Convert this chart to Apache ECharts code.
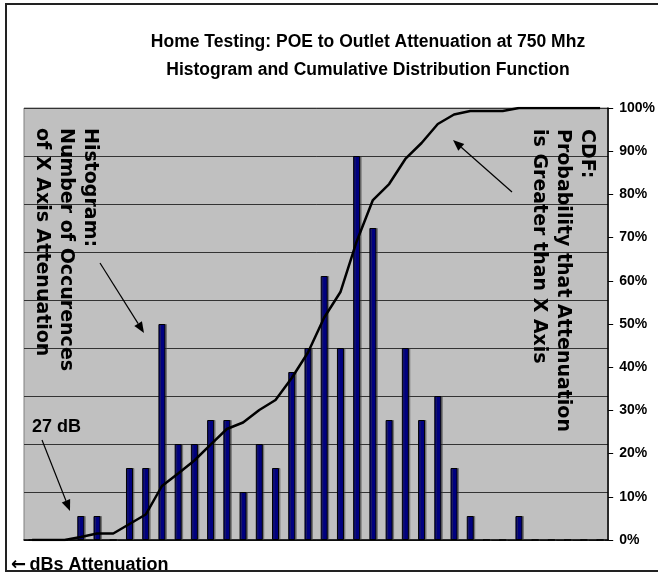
<!DOCTYPE html>
<html>
<head>
<meta charset="utf-8">
<script src="https://cdn.jsdelivr.net/npm/echarts@6/dist/echarts.min.js"></script>
<style>
html,body{margin:0;padding:0;background:#fff;}
#c{width:658px;height:580px;}
</style>
</head>
<body>
<div id="c"></div>
<script>
// Categories: attenuation in dB (index 3 = 27 dB)
const categories = [24,25,26,27,28,29,30,31,32,33,34,35,36,37,38,39,40,41,42,43,44,45,46,47,48,49,50,51,52,53,54,55,56,57,58,59];
// Histogram: number of occurrences per dB bin
const counts = [0,0,0,1,1,0,3,3,9,4,4,5,5,2,4,3,7,8,11,8,16,13,5,8,5,6,3,1,0,0,1,0,0,0,0,0];
// CDF in percent
const cdf = [0,0,0,0.7,1.5,1.5,3.7,5.9,12.5,15.4,18.4,22.1,25.7,27.2,30.1,32.4,37.5,43.4,51.5,57.4,69.1,78.7,82.4,88.2,91.9,96.3,98.5,99.3,99.3,99.3,100,100,100,100,100,100];
// Right axis percent ticks
const pctMin = 0, pctMax = 100, pctStep = 10;
// Left (hidden) count axis
const countMin = 0, countMax = 18, countStep = 2;

const titleLines = ['Home Testing: POE to Outlet Attenuation at 750 Mhz', 'Histogram and Cumulative Distribution Function'];
const histNote = 'Histogram:\nNumber of Occurences\nof X Axis Attenuation';
const cdfNote = 'CDF:\nProbability that Attenuation\nis Greater than X Axis';

const chart = echarts.init(document.getElementById('c'), null, {renderer: 'canvas'});

function arrow(x1, y1, x2, y2) {
  const ang = Math.atan2(y2 - y1, x2 - x1);
  const L = 11, W = 4.5;
  const bx = x2 - L * Math.cos(ang), by = y2 - L * Math.sin(ang);
  const px = -Math.sin(ang) * W, py = Math.cos(ang) * W;
  return [
    {type: 'line', z: 100, shape: {x1: x1, y1: y1, x2: bx, y2: by}, style: {stroke: '#000', lineWidth: 1.2}},
    {type: 'polygon', z: 100, shape: {points: [[x2, y2], [bx + px, by + py], [bx - px, by - py]]}, style: {fill: '#000'}}
  ];
}

const annFont = 'bold 19px "DejaVu Sans"';
const sansBold = '"Liberation Sans", Arial, sans-serif';

chart.setOption({
  animation: false,
  backgroundColor: '#fff',
  grid: {
    left: 24, right: 49, top: 108, bottom: 40,
    show: true, backgroundColor: '#C0C0C0', borderColor: '#808080', borderWidth: 1
  },
  xAxis: {
    type: 'category', data: categories, boundaryGap: true,
    axisLine: {show: true, lineStyle: {color: '#000', width: 1.5}},
    axisTick: {show: false}, axisLabel: {show: false}, splitLine: {show: false}
  },
  yAxis: [
    {
      type: 'value', position: 'left', min: countMin, max: countMax, interval: countStep,
      axisLine: {show: false}, axisTick: {show: false}, axisLabel: {show: false},
      splitLine: {show: true, lineStyle: {color: '#333', width: 1}}
    },
    {
      type: 'value', position: 'right', min: pctMin, max: pctMax, interval: pctStep,
      axisLine: {show: true, lineStyle: {color: '#000', width: 1.5}},
      axisTick: {show: true, inside: false, length: 5, lineStyle: {color: '#000', width: 1}},
      axisLabel: {show: true, margin: 11, formatter: '{value}%', color: '#000',
        fontFamily: sansBold, fontWeight: 'bold', fontSize: 14},
      splitLine: {show: false}
    }
  ],
  series: [
    {
      type: 'bar', yAxisIndex: 0, data: counts, barWidth: 7, z: 2,
      itemStyle: {color: '#000080', borderColor: '#000', borderWidth: 1,
        shadowColor: 'rgba(60,60,60,0.45)', shadowOffsetX: 1.5, shadowOffsetY: 0, shadowBlur: 0}
    },
    {
      type: 'line', yAxisIndex: 1, data: cdf, showSymbol: false, symbol: 'none', z: 3,
      lineStyle: {color: '#000', width: 2.5}
    }
  ],
  graphic: [
    {type: 'rect', z: 100, shape: {x: 6, y: 4, width: 670, height: 567}, style: {fill: 'none', stroke: '#222', lineWidth: 2}},
    {type: 'text', z: 100, x: 368, y: 42, style: {text: titleLines[0], textAlign: 'center', textVerticalAlign: 'middle', font: 'bold 17.5px ' + sansBold, fill: '#000'}},
    {type: 'text', z: 100, x: 368, y: 70, style: {text: titleLines[1], textAlign: 'center', textVerticalAlign: 'middle', font: 'bold 17.5px ' + sansBold, fill: '#000'}},
    {type: 'text', z: 100, x: 102, y: 128, rotation: -Math.PI / 2, style: {text: histNote, textAlign: 'left', textVerticalAlign: 'top', font: annFont, lineHeight: 24, fill: '#000'}},
    {type: 'text', z: 100, x: 599, y: 129, rotation: -Math.PI / 2, style: {text: cdfNote, textAlign: 'left', textVerticalAlign: 'top', font: annFont, lineHeight: 24, fill: '#000'}},
    {type: 'text', z: 100, x: 32, y: 427, style: {text: '27 dB', textAlign: 'left', textVerticalAlign: 'middle', font: 'bold 18px ' + sansBold, fill: '#000'}},
    {type: 'text', z: 101, x: 11, y: 565, style: {
      text: '{a|\u2190} {b|dBs Attenuation}', textAlign: 'left', textVerticalAlign: 'middle', fill: '#000',
      rich: {
        a: {font: 'bold 18px "DejaVu Sans"', fill: '#000'},
        b: {font: 'bold 18px ' + sansBold, fill: '#000'}
      }
    }}
  ].concat(arrow(42, 440, 70, 511)).concat(arrow(100, 263, 144, 333)).concat(arrow(512, 192, 453, 140))
});
</script>
</body>
</html>
